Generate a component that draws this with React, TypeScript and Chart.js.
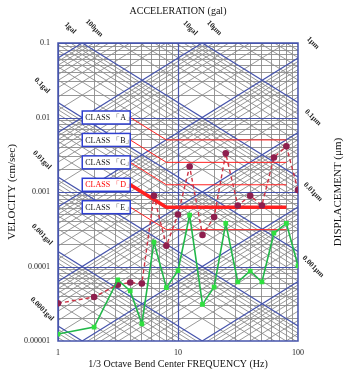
import React, { useEffect, useRef } from 'react';
import { Chart, registerables } from 'chart.js';

Chart.register(...registerables);

// ---- data ----
const frequencyHz = [1, 2, 3.15, 4, 5, 6.3, 8, 10, 12.5, 16, 20, 25, 31.5, 40, 50, 63, 80, 100];
const velocityDashed = [3.2e-5, 3.9e-5, 5.7e-5, 6.1e-5, 5.9e-5, 8.9e-4, 1.9e-4, 5.0e-4, 2.2e-3, 2.65e-4, 4.6e-4, 3.3e-3, 6.6e-4, 8.9e-4, 6.6e-4, 2.9e-3, 4.1e-3, 1.06e-3];
const velocityGreen = [1.24e-5, 1.54e-5, 6.6e-5, 4.7e-5, 1.7e-5, 2.13e-4, 5.2e-5, 8.8e-5, 4.9e-4, 3.1e-5, 5.3e-5, 3.8e-4, 6.2e-5, 8.7e-5, 6.2e-5, 2.8e-4, 3.8e-4, 1.02e-4];

const classFrequency = [4, 8, 80];
const classA = [0.01, 0.005, 0.005];
const classB = [0.005, 0.0025, 0.0025];
const classC = [0.0025, 0.00125, 0.00125];
const classD = [0.00125, 0.000625, 0.000625];
const classE = [0.000625, 0.0003125, 0.0003125];
const classLabels = ['CLASS 「A」', 'CLASS 「B」', 'CLASS 「C」', 'CLASS 「D」', 'CLASS 「E」'];

const velocityTickValues = [0.1, 0.01, 0.001, 0.0001, 0.00001];
const velocityTickLabels = ['0.1', '0.01', '0.001', '0.0001', '0.00001'];
const frequencyTickValues = [1, 10, 100];
const frequencyTickLabels = ['1', '10', '100'];

const leftAccelValues = [0.1, 0.01, 0.001, 0.0001]; // gal
const leftAccelLabels = ['0.1gal', '0.01gal', '0.001gal', '0.0001gal'];
const topAccelValues = [1, 10]; // gal
const topAccelLabels = ['1gal', '10gal'];
const topDispValues = [100, 10]; // μm
const topDispLabels = ['100μm', '10μm'];
const rightDispValues = [1, 0.1, 0.01, 0.001]; // μm
const rightDispLabels = ['1μm', '0.1μm', '0.01μm', '0.001μm'];

const SERIF = "'Liberation Serif', 'Times New Roman', serif";
const GRAY = '#8c8c8c';
const BLUE = '#4654ac';

const isDecade = (v: number) => Math.abs(Math.log10(v) - Math.round(Math.log10(v))) < 1e-9;
const minorList = (lo: number, hi: number) => {
  const out: number[] = [];
  for (let e = lo; e < hi; e++) for (let m = 1; m <= 9; m++) out.push(parseFloat((m * Math.pow(10, e)).toPrecision(6)));
  out.push(Math.pow(10, hi));
  return out;
};

const tripartitePlugin = {
  id: 'tripartite',
  beforeDatasetsDraw(chart: any) {
    const { ctx, chartArea: a, scales } = chart;
    const x = scales.x, y = scales.y;
    const f0 = x.min, f1 = x.max;
    ctx.save();
    ctx.beginPath();
    ctx.rect(a.left, a.top, a.right - a.left, a.bottom - a.top);
    ctx.clip();
    const drawDiag = (decadeOnly: boolean) => {
      for (let e = -7; e <= 3; e++) {
        for (let m = 1; m <= 9; m++) {
          if (decadeOnly !== (m === 1)) continue;
          const k = m * Math.pow(10, e);
          // acceleration (gal): v = a / (2 pi f)
          ctx.beginPath();
          ctx.moveTo(x.getPixelForValue(f0), y.getPixelForValue(k / (2 * Math.PI * f0)));
          ctx.lineTo(x.getPixelForValue(f1), y.getPixelForValue(k / (2 * Math.PI * f1)));
          ctx.stroke();
          // displacement (μm): v = 2 pi f d
          const d = k * 1e-4;
          ctx.beginPath();
          ctx.moveTo(x.getPixelForValue(f0), y.getPixelForValue(2 * Math.PI * f0 * d));
          ctx.lineTo(x.getPixelForValue(f1), y.getPixelForValue(2 * Math.PI * f1 * d));
          ctx.stroke();
        }
      }
    };
    ctx.lineWidth = 0.9;
    ctx.strokeStyle = GRAY;
    drawDiag(false);
    ctx.lineWidth = 1.2;
    ctx.strokeStyle = BLUE;
    drawDiag(true);
    // decade grid lines in blue
    x.ticks.forEach((t: any) => {
      if (!isDecade(t.value)) return;
      const px = Math.round(x.getPixelForValue(t.value)) + 0.5;
      ctx.beginPath(); ctx.moveTo(px, a.top); ctx.lineTo(px, a.bottom); ctx.stroke();
    });
    y.ticks.forEach((t: any) => {
      if (!isDecade(t.value)) return;
      const py = Math.round(y.getPixelForValue(t.value)) + 0.5;
      ctx.beginPath(); ctx.moveTo(a.left, py); ctx.lineTo(a.right, py); ctx.stroke();
    });
    ctx.restore();
    ctx.save();
    ctx.strokeStyle = BLUE;
    ctx.lineWidth = 1.5;
    ctx.strokeRect(a.left, a.top, a.right - a.left, a.bottom - a.top);
    ctx.restore();
  },
  afterDatasetsDraw(chart: any) {
    const { ctx, scales } = chart;
    const x = scales.x, y = scales.y;
    const levels = [classA, classB, classC, classD, classE];
    ctx.save();
    levels.forEach((lv, i) => {
      const xr = x.getPixelForValue(classFrequency[0]);
      const yc = y.getPixelForValue(lv[0]);
      const w = 48, h = 13;
      ctx.fillStyle = '#ffffff';
      ctx.fillRect(xr - w, yc - h / 2, w, h);
      ctx.strokeStyle = '#2f3fd0';
      ctx.lineWidth = 1.5;
      ctx.strokeRect(xr - w, yc - h / 2, w, h);
      ctx.fillStyle = i === 3 ? '#ff0000' : '#111111';
      ctx.font = `8px ${SERIF}`;
      ctx.textBaseline = 'middle';
      ctx.textAlign = 'left';
      ctx.fillText(classLabels[i], xr - w + 3, yc + 0.5);
    });
    ctx.restore();
  },
  afterDraw(chart: any) {
    const { ctx, chartArea: a, scales } = chart;
    const x = scales.x, y = scales.y;
    const vmax = y.max;
    const put = (text: string, px: number, py: number) => {
      ctx.save();
      ctx.translate(px, py);
      ctx.rotate(Math.PI / 4);
      ctx.fillText(text, 0, 0);
      ctx.restore();
    };
    ctx.save();
    ctx.fillStyle = '#222';
    ctx.font = `bold 7.5px ${SERIF}`;
    ctx.textAlign = 'center';
    ctx.textBaseline = 'middle';
    topAccelValues.forEach((g, i) => {
      const f = g / (2 * Math.PI * vmax);
      put(topAccelLabels[i], x.getPixelForValue(f) - 12, a.top - 15);
    });
    topDispValues.forEach((d, i) => {
      const f = vmax / (2 * Math.PI * d * 1e-4);
      put(topDispLabels[i], x.getPixelForValue(f) + 12, a.top - 15);
    });
    leftAccelValues.forEach((g, i) => {
      const v = g / (2 * Math.PI * x.min);
      put(leftAccelLabels[i], a.left - 16, y.getPixelForValue(v) - 17);
    });
    rightDispValues.forEach((d, i) => {
      const v = 2 * Math.PI * x.max * d * 1e-4;
      put(rightDispLabels[i], a.right + 15, y.getPixelForValue(v) - 15);
    });
    // right axis title
    ctx.font = `11px ${SERIF}`;
    ctx.fillStyle = '#111';
    ctx.translate(a.right + 40, (a.top + a.bottom) / 2);
    ctx.rotate(-Math.PI / 2);
    ctx.fillText('DISPLACEMENT (μm)', 0, 0);
    ctx.restore();
  },
};

export default function App() {
  const ref = useRef<HTMLCanvasElement>(null);
  useEffect(() => {
    const pts = (ys: number[], xs: number[]) => xs.map((f, i) => ({ x: f, y: ys[i] }));
    const classLine = (ys: number[], width: number) => ({
      data: pts(ys, classFrequency),
      borderColor: '#ff2020',
      borderWidth: width,
      pointRadius: 0,
      fill: false,
    });
    const chart = new Chart(ref.current as HTMLCanvasElement, {
      type: 'line',
      data: {
        datasets: [
          {
            data: pts(velocityGreen, frequencyHz),
            borderColor: '#22b84a',
            borderWidth: 1.6,
            pointRadius: 2.2,
            pointStyle: 'rect',
            pointBackgroundColor: '#30e040',
            pointBorderColor: '#30e040',
            fill: false,
          },
          {
            data: pts(velocityDashed, frequencyHz),
            borderColor: '#cc3344',
            borderWidth: 1.4,
            borderDash: [4, 3],
            pointRadius: 2.6,
            pointBackgroundColor: '#8e1f4e',
            pointBorderColor: '#8e1f4e',
            fill: false,
          },
          classLine(classA, 1),
          classLine(classB, 1),
          classLine(classC, 1),
          classLine(classD, 3.5),
          classLine(classE, 1),
        ] as any,
      },
      options: {
        responsive: false,
        animation: false,
        events: [],
        layout: { padding: 0 },
        plugins: { legend: { display: false }, tooltip: { enabled: false } },
        scales: {
          x: {
            type: 'logarithmic',
            position: 'bottom',
            min: 1,
            max: 100,
            afterBuildTicks: (s: any) => { s.ticks = minorList(0, 2).map((v) => ({ value: v })); },
            afterFit: (s: any) => { s.height = 29; },
            ticks: {
              autoSkip: false,
              maxRotation: 0,
              padding: 7,
              color: '#222',
              font: { family: SERIF, size: 8 },
              callback: (v: any) => {
                const i = frequencyTickValues.findIndex((t) => Math.abs(t - v) < 1e-9);
                return i >= 0 ? frequencyTickLabels[i] : '';
              },
            },
            grid: { color: (c: any) => (c.tick && isDecade(c.tick.value) ? 'rgba(0,0,0,0)' : GRAY), lineWidth: 0.9, drawTicks: false },
            border: { display: false },
            title: { display: true, text: '1/3 Octave Bend Center FREQUENCY (Hz)', color: '#111', font: { family: SERIF, size: 10 }, padding: { top: 0, bottom: 0 } },
          },
          xTop: {
            type: 'logarithmic',
            position: 'top',
            min: 1,
            max: 100,
            afterFit: (s: any) => { s.height = 43; },
            ticks: { display: false },
            grid: { display: false, drawTicks: false },
            border: { display: false },
            title: { display: true, text: 'ACCELERATION (gal)', color: '#111', font: { family: SERIF, size: 10 }, padding: { top: 5, bottom: 0 } },
          },
          y: {
            type: 'logarithmic',
            position: 'left',
            min: 0.00001,
            max: 0.1,
            afterBuildTicks: (s: any) => { s.ticks = minorList(-5, -1).map((v) => ({ value: v })); },
            afterFit: (s: any) => { s.width = 58; },
            ticks: {
              autoSkip: false,
              padding: 8,
              color: '#222',
              font: { family: SERIF, size: 8 },
              callback: (v: any) => {
                const i = velocityTickValues.findIndex((t) => Math.abs(t - v) / t < 1e-6);
                return i >= 0 ? velocityTickLabels[i] : '';
              },
            },
            grid: { color: (c: any) => (c.tick && isDecade(c.tick.value) ? 'rgba(0,0,0,0)' : GRAY), lineWidth: 0.9, drawTicks: false },
            border: { display: false },
            title: { display: true, text: 'VELOCITY (cm/sec)', color: '#111', font: { family: SERIF, size: 11 }, padding: { top: 6, bottom: 0 } },
          },
          yRight: {
            type: 'logarithmic',
            position: 'right',
            min: 0.00001,
            max: 0.1,
            afterFit: (s: any) => { s.width = 66; },
            ticks: { display: false },
            grid: { display: false, drawTicks: false },
            border: { display: false },
          },
        },
      } as any,
      plugins: [tripartitePlugin],
    });
    return () => chart.destroy();
  }, []);
  return (
    <div style={{ position: 'fixed', left: 0, top: 0, width: 364, height: 370, background: '#ffffff' }}>
      <canvas ref={ref} width={364} height={370} style={{ display: 'block', width: 364, height: 370 }} />
    </div>
  );
}
